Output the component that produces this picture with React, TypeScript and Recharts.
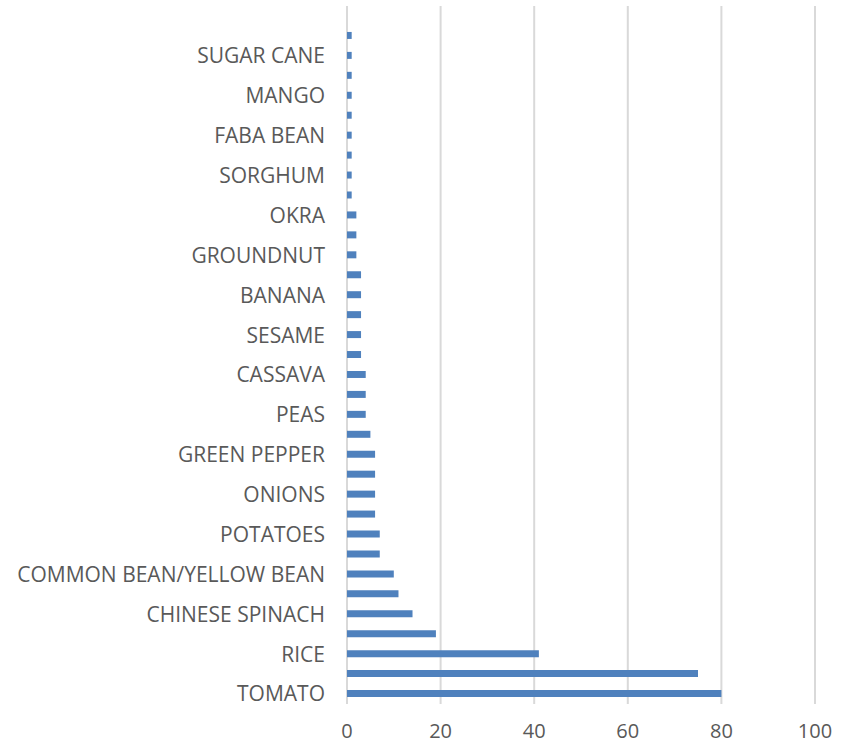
import { BarChart, Bar, XAxis, YAxis, CartesianGrid } from "recharts";

// Crops listed bottom-to-top; every second category carries no printed label.
const CROPS = [
  "TOMATO", "", "RICE", "", "CHINESE SPINACH", "", "COMMON BEAN/YELLOW BEAN", "",
  "POTATOES", "", "ONIONS", "", "GREEN PEPPER", "", "PEAS", "", "CASSAVA", "",
  "SESAME", "", "BANANA", "", "GROUNDNUT", "", "OKRA", "", "SORGHUM", "",
  "FABA BEAN", "", "MANGO", "", "SUGAR CANE", "", "",
];

const COUNTS: (number | null)[] = [
  80, 75, 41, 19, 14, 11, 10, 7, 7, 6, 6, 6, 6, 5, 4, 4, 4, 3, 3, 3, 3, 3, 2, 2,
  2, 1, 1, 1, 1, 1, 1, 1, 1, 1, null,
];

const X_TICKS = [0, 20, 40, 60, 80, 100];

const rows = CROPS.map((crop, i) => ({ idx: i, crop, count: COUNTS[i] }));

const FONT = "'Open Sans', sans-serif";
const TEXT = "#595959";

export default function App() {
  return (
    <div style={{ position: "absolute", left: 0, top: 0, background: "#fff" }}>
      <BarChart
        width={845}
        height={745}
        data={rows}
        layout="vertical"
        margin={{ top: 6, right: 30, bottom: 0, left: 0 }}
      >
        <CartesianGrid horizontal={false} stroke="#d9d9d9" strokeWidth={2} />
        <XAxis
          type="number"
          domain={[0, 100]}
          ticks={X_TICKS}
          axisLine={false}
          tickLine={false}
          tickSize={0}
          tickMargin={20}
          height={41}
          tick={{ fill: TEXT, fontSize: 20, fontFamily: FONT }}
        />
        <YAxis
          type="category"
          dataKey="idx"
          reversed
          interval={0}
          width={347}
          axisLine={false}
          tickLine={false}
          tickSize={0}
          tickMargin={22}
          tickFormatter={(i: number) => CROPS[i]}
          tick={{ fill: TEXT, fontSize: 21, fontFamily: FONT }}
        />
        <Bar dataKey="count" fill="#4f81bd" barSize={7} isAnimationActive={false} />
      </BarChart>
    </div>
  );
}
